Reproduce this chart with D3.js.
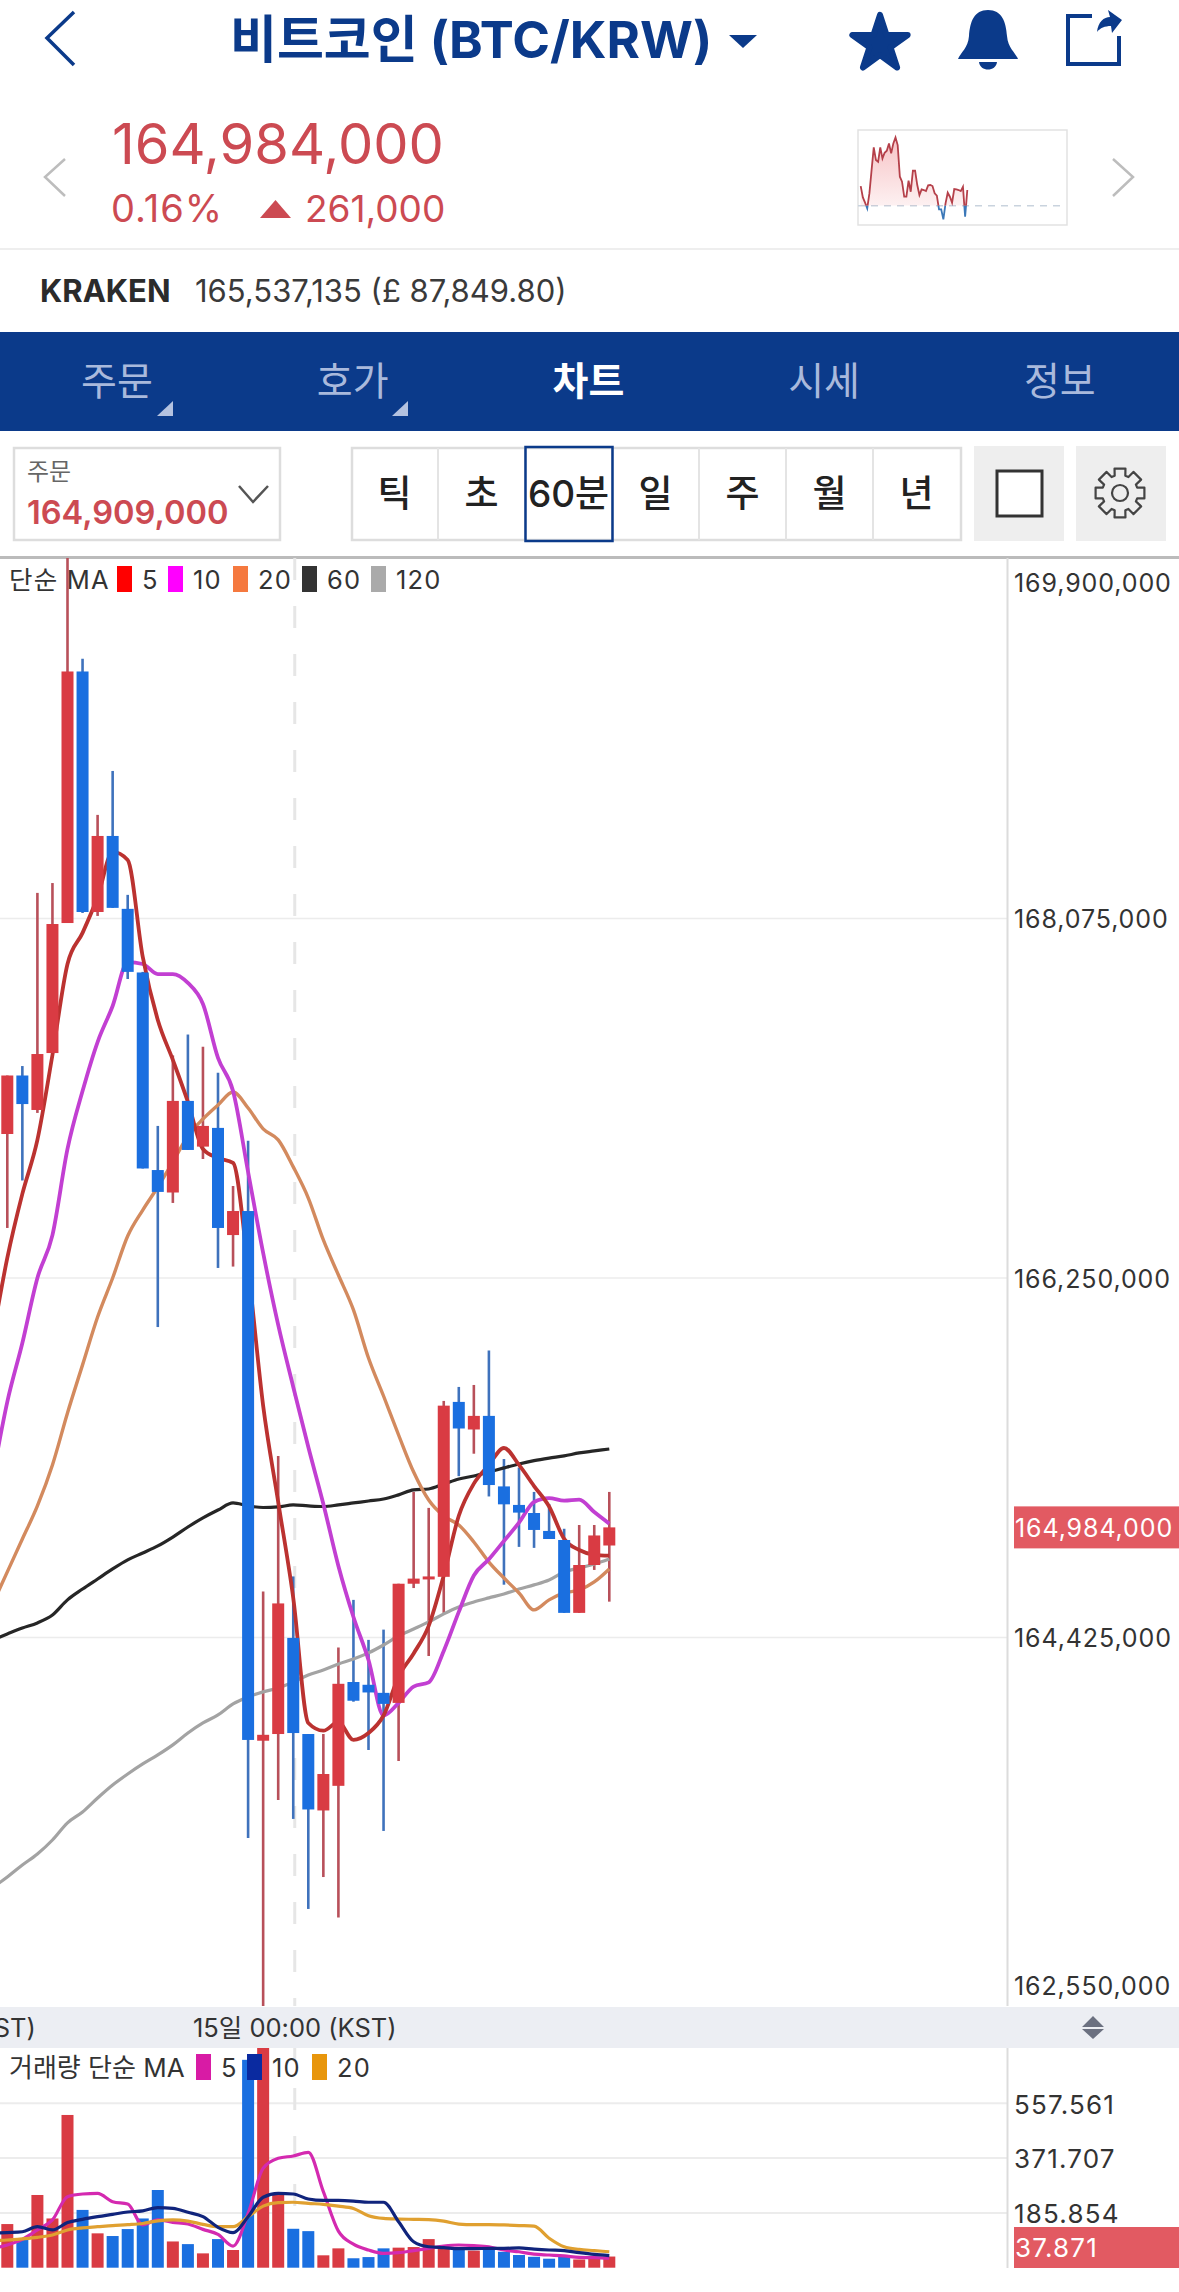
<!DOCTYPE html>
<html>
<head>
<meta charset="utf-8">
<style>
html, body { margin: 0; padding: 0; background: #fff; }
svg { display: block; }
text { font-family: Inter, "Noto Sans CJK KR", sans-serif; }
</style>
</head>
<body>
<svg id="page" width="1179" height="2292"></svg>
<script src="https://cdn.jsdelivr.net/npm/d3@7/dist/d3.min.js"></script>
<script>
// prices are in thousands of KRW, index 0 is the first candle fully on screen
var opens = [166981,167278,167103,167392,168052,169329,168108,168494,168124,167801,166798,166684,167149,166917,167012,166468,166590,163901,163935,164423,163935,163547,163672,164199,164185,164144,164093,164698,164722,164733,165621,165481,165550,165192,165098,165057,164966,164920,164550,164793,164892];
var highs = [167278,167326,168205,168255,170000,169393,168601,168824,168195,167804,167022,167380,167486,167424,167292,166717,166947,164658,165347,164735,163935,163935,164374,164616,164413,164465,164698,165164,165083,165626,165697,165707,165882,165331,165288,165164,165103,164977,164996,164996,165164];
var lows = [166504,166745,167088,167392,168052,168103,168088,168129,167768,166806,166001,166631,166900,166854,166301,166308,163407,162534,163600,163504,163047,163209,163004,164099,163854,163443,163798,164676,164331,164550,165244,165358,165141,164693,164885,164880,164925,164550,164550,164768,164607];
var closes = [167278,167133,167387,168047,169329,168108,168494,168129,167804,166806,166687,167149,166900,167022,166504,166590,163905,163931,164598,163940,163552,163732,164190,164104,164146,164088,164698,164724,164735,165602,165486,165550,165199,165101,165059,164971,164925,164550,164793,164943,164984];

// moving averages start one bar left of the screen, index -1
var ma5 = [165935,166352,166677,166951,167382,167844,168002,168184,168413,168372,167880,167560,167357,167144,166905,166859,166834,166301,165602,165113,164626,163991,163952,163996,163905,163940,164029,164227,164344,164484,164740,165043,165206,165301,165387,165301,165194,165090,164926,164869,164845,164841];
var ma10 = [165225,165621,165920,166250,166468,166905,167199,167448,167631,167854,167844,167793,167793,167748,167641,167367,167199,166788,166377,166012,165697,165392,165103,164788,164529,164311,164029,164093,164176,164197,164357,164555,164740,164822,164915,165008,165113,165133,165120,165125,165062,165003];
var ma20 = [164590,164758,164925,165093,165301,165565,165809,166052,166250,166463,166595,166712,166839,166971,167057,167128,167194,167113,167007,166951,166814,166656,166443,166265,166088,165844,165651,165453,165265,165123,165042,164996,164910,164808,164727,164651,164565,164616,164651,164666,164707,164773];
var ma60 = [164412,164443,164473,164499,164539,164616,164671,164722,164773,164819,164854,164890,164935,164986,165032,165072,165108,165093,165085,165088,165098,165093,165090,165098,165108,165118,165128,165149,165174,165179,165204,165230,165245,165265,165286,165306,165323,165336,165347,165362,165372,165382];
var ma120 = [163154,163209,163270,163326,163397,163484,163539,163610,163676,163732,163783,163829,163880,163940,163991,164032,164088,164123,164149,164169,164199,164235,164260,164291,164316,164347,164387,164433,164468,164504,164545,164580,164605,164626,164646,164671,164692,164717,164758,164778,164798,164824];

var volumes = [148,99.5,246.6,167,518,196,116.5,107.4,131,167,263.5,89,80,48.6,97,60,705,760,246.6,132,124,42,65.6,32,36,65.6,68,70,97,65.6,65,58,62,54,43,37,30.5,43,28,35,37.871];
var volMa5 = [65.6,77,96,128,162,241,250,252,224,216,145,162,154,148,130,113,73.5,184,337,371,379,391,258,124,80,60,48.6,51,58,65.6,73.5,77,75,71,60,54,46,43,40,35,34,32];
var volMa10 = [116.5,119,122,139,128,153,164,173,181,189,193,204,201,188,173,137,119,173,239,252,250,233,228,228,226,222,222,156,88,71,68,64.5,64.5,65.6,65.6,67,63,60,58,51,45,41];
var volMa20 = [92,94,98,103,111,128,135,139,143,146,150,159,162,158,147,139,139,173,209,221,222,218,215,209,201,176,167,165,164,163,158,148,146,146,145,143,141,100,71,62,58,54];

var priceTicks = [169900, 168075, 166250, 164425, 162550];
var volTicks = [557.561, 371.707, 185.854];
var timeTicks = [-4.9, 19.1];
var timeLabels = ['14일 00:00 (KST)', '15일 00:00 (KST)'];
var lastPrice = 164984;
var lastVolume = 37.871;

var intervals = ['틱', '초', '60분', '일', '주', '월', '년'];
var tabs = ['주문', '호가', '차트', '시세', '정보'];
var priceLegend = [['5', '#ff0000'], ['10', '#ff00ff'], ['20', '#f5793f'], ['60', '#333333'], ['120', '#aaaaaa']];
var volLegend = [['5', '#d81ba5'], ['10', '#0a2aa0'], ['20', '#e8960c']];
var spark = [59,25,9,-8,37,107,175,137,132,175,142,159,165,187,157,187,205,182,87,72,27,27,75,42,105,105,62,32,49,47,44,61,62,59,37,30,-11,-11,-41,7,39,27,9,50,49,47,44,57,-33,47];

var navy = '#0b3a8a', red = '#cc4a52', candleRed = '#d93b43', candleBlue = '#1a6fe0';
var svg = d3.select('#page');

function label(g, x, y, str, size, fill, weight, anchor) {
    return g.append('text').attr('x', x).attr('y', y).text(str)
        .attr('font-size', size).attr('fill', fill)
        .attr('font-weight', weight || 400).attr('text-anchor', anchor || 'start');
}
function chevron(g, pts, color, width) {
    g.append('path').attr('d', d3.line()(pts)).attr('fill', 'none')
        .attr('stroke', color).attr('stroke-width', width);
}

// ---- header
var head = svg.append('g');
chevron(head, [[74, 12], [47, 38], [74, 65]], navy, 3.5);
label(head, 230, 58, '비트코인 (BTC/KRW)', 51, navy, 700);
head.append('path').attr('d', 'M729,35 L757,35 L743,48 Z').attr('fill', navy);
head.append('path').attr('transform', 'translate(880,44)')
    .attr('d', d3.symbol().type(d3.symbolStar).size(950)())
    .attr('fill', navy).attr('stroke', navy).attr('stroke-width', 6).attr('stroke-linejoin', 'round');
head.append('path').attr('fill', navy)
    .attr('d', 'M988,10 C1002,10 1006,22 1007,36 C1008,48 1015,52 1018,59 L958,59 C961,52 968,48 969,36 C970,22 974,10 988,10 Z M979,62 L997,62 C996,72 980,72 979,62 Z');
head.append('path').attr('fill', 'none').attr('stroke', navy).attr('stroke-width', 4)
    .attr('d', 'M1092,16 L1068,16 L1068,64 L1119,64 L1119,36');
head.append('path').attr('fill', navy)
    .attr('d', 'M1097,32 C1098,22 1104,17 1110,17 L1108,10 L1122,20 L1112,33 L1111,26 C1105,26 1100,28 1097,32 Z');

label(head, 112, 164, '164,984,000', 56, red);
label(head, 111, 222, '0.16%', 38, red).style('letter-spacing', '1px');
head.append('path').attr('d', 'M260,218 L291,218 L275.5,200 Z').attr('fill', red);
label(head, 305, 222, '261,000', 37, red);
chevron(head, [[65, 159], [45, 177], [65, 196]], '#bdbdbd', 2.5);
chevron(head, [[1113, 159], [1133, 177], [1113, 196]], '#bdbdbd', 2.5);

// mini chart
var defs = svg.append('defs');
var grad = defs.append('linearGradient').attr('id', 'sparkFill').attr('x1', 0).attr('x2', 0).attr('y1', 0).attr('y2', 1);
grad.append('stop').attr('offset', '0').attr('stop-color', '#e8535a').attr('stop-opacity', 0.35);
grad.append('stop').attr('offset', '1').attr('stop-color', '#e8535a').attr('stop-opacity', 0.03);
defs.append('clipPath').attr('id', 'sparkUp').append('rect').attr('x', 858).attr('y', 130).attr('width', 209).attr('height', 75.7);
defs.append('clipPath').attr('id', 'sparkDown').append('rect').attr('x', 858).attr('y', 205.7).attr('width', 209).attr('height', 20);
var sx = d3.scaleLinear().domain([0, spark.length - 1]).range([860.7, 967.3]);
var sy = d3.scaleLinear().domain([0, 100]).range([205.7, 172.4]);
head.append('rect').attr('x', 858).attr('y', 130).attr('width', 209).attr('height', 95)
    .attr('fill', '#fff').attr('stroke', '#e2e2e2').attr('stroke-width', 1.5);
head.append('line').attr('x1', 858).attr('x2', 1064).attr('y1', sy(0)).attr('y2', sy(0))
    .attr('stroke', '#c9d3de').attr('stroke-width', 1.5).attr('stroke-dasharray', '7 6');
var sparkLine = d3.line().x(function (d, i) { return sx(i) }).y(function (d) { return sy(d) });
var sparkArea = d3.area().x(function (d, i) { return sx(i) }).y0(sy(0)).y1(function (d) { return sy(d) });
head.append('path').datum(spark).attr('d', sparkArea).attr('fill', 'url(#sparkFill)').attr('clip-path', 'url(#sparkUp)');
head.append('path').datum(spark).attr('d', sparkLine).attr('fill', 'none').attr('stroke', '#b5404a').attr('stroke-width', 1.8).attr('clip-path', 'url(#sparkUp)');
head.append('path').datum(spark).attr('d', sparkLine).attr('fill', 'none').attr('stroke', '#3b78b8').attr('stroke-width', 1.8).attr('clip-path', 'url(#sparkDown)');

head.append('rect').attr('x', 0).attr('y', 248).attr('width', 1179).attr('height', 2).attr('fill', '#eeeeee');
label(head, 40, 302, 'KRAKEN', 31, '#2b2b2b', 700);
label(head, 195, 302, '165,537,135 (£ 87,849.80)', 31, '#3a3a3a');

// ---- tab bar
head.append('rect').attr('x', 0).attr('y', 332).attr('width', 1179).attr('height', 99).attr('fill', navy);
tabs.forEach(function (t, i) {
    var on = t === '차트';
    label(head, 117 + i * 235.7, 395, t, 39, on ? '#ffffff' : '#a9b9dc', on ? 700 : 400, 'middle');
});
[173, 408].forEach(function (x) {
    head.append('path').attr('d', 'M' + x + ',401 L' + x + ',416 L' + (x - 16) + ',416 Z').attr('fill', '#b4c2e0');
});

// ---- toolbar
head.append('rect').attr('x', 14).attr('y', 448).attr('width', 266).attr('height', 92)
    .attr('fill', '#fff').attr('stroke', '#dddddd').attr('stroke-width', 2.5);
label(head, 27, 480, '주문', 24, '#666666');
label(head, 27, 524, '164,909,000', 32.6, red, 600);
chevron(head, [[239, 486], [253, 502], [268, 486]], '#555555', 2.5);
head.append('rect').attr('x', 352).attr('y', 448).attr('width', 609).attr('height', 92)
    .attr('fill', '#fff').attr('stroke', '#dddddd').attr('stroke-width', 2.5);
intervals.forEach(function (t, i) {
    var x = 351 + i * 87;
    if (i > 0) head.append('line').attr('x1', x).attr('x2', x).attr('y1', 448).attr('y2', 540).attr('stroke', '#e4e4e4').attr('stroke-width', 2);
    label(head, x + 43.5, 507, t, 37, '#222222', 500, 'middle');
});
head.append('rect').attr('x', 525.5).attr('y', 447).attr('width', 87).attr('height', 94)
    .attr('fill', 'none').attr('stroke', navy).attr('stroke-width', 2.5);
head.append('rect').attr('x', 974).attr('y', 446).attr('width', 90).attr('height', 95).attr('fill', '#eeeeee');
head.append('rect').attr('x', 1076).attr('y', 446).attr('width', 90).attr('height', 95).attr('fill', '#eeeeee');
head.append('rect').attr('x', 997).attr('y', 471).attr('width', 45).attr('height', 45)
    .attr('fill', '#fff').attr('stroke', '#333333').attr('stroke-width', 3);
var gear = [];
d3.range(8).forEach(function (k) {
    var a = k * Math.PI / 4 - Math.PI / 2;
    [[-0.3, 18], [-0.22, 25], [0.22, 25], [0.3, 18]].forEach(function (p) {
        gear.push([1120 + p[1] * Math.cos(a + p[0]), 493 + p[1] * Math.sin(a + p[0])]);
    });
});
head.append('path').attr('d', d3.line()(gear) + 'Z').attr('fill', 'none').attr('stroke', '#444444').attr('stroke-width', 2.2).attr('stroke-linejoin', 'round');
head.append('circle').attr('cx', 1120).attr('cy', 493).attr('r', 8).attr('fill', 'none').attr('stroke', '#444444').attr('stroke-width', 2.2);

// ---- scales
var x = d3.scaleLinear().domain([0, 40]).range([7.3, 609.3]);
var y = d3.scaleLinear().domain([168075, 164425]).range([918.5, 1637.5]);
var yVol = d3.scaleLinear().domain([0, 557.561]).range([2267.7, 2103.3]);
var axisX = 1007.5, panelTop = 558, panelBottom = 2006, volTop = 2048;

defs.append('clipPath').attr('id', 'pricePanel').append('rect').attr('x', 0).attr('y', panelTop).attr('width', axisX).attr('height', panelBottom - panelTop);
defs.append('clipPath').attr('id', 'volPanel').append('rect').attr('x', 0).attr('y', volTop).attr('width', axisX).attr('height', 2268 - volTop);

svg.append('rect').attr('x', 0).attr('y', panelTop - 2).attr('width', 1179).attr('height', 3).attr('fill', '#bbbbbb');

// grid
var grid = svg.append('g');
grid.selectAll('line.p').data(priceTicks.slice(1, 4)).enter().append('line').attr('class', 'p')
    .attr('x1', 0).attr('x2', axisX).attr('y1', y).attr('y2', y).attr('stroke', '#ececec').attr('stroke-width', 1.5);
grid.selectAll('line.v').data(volTicks).enter().append('line').attr('class', 'v')
    .attr('x1', 0).attr('x2', axisX).attr('y1', yVol).attr('y2', yVol).attr('stroke', '#ececec').attr('stroke-width', 2);
grid.selectAll('line.t').data(timeTicks.slice(1)).enter().append('line').attr('class', 't')
    .attr('x1', x).attr('x2', x).attr('y1', panelTop).attr('y2', panelBottom)
    .attr('stroke', '#e6e6e6').attr('stroke-width', 3).attr('stroke-dasharray', '22 26').attr('stroke-dashoffset', 0);
grid.selectAll('line.tv').data(timeTicks.slice(1)).enter().append('line').attr('class', 'tv')
    .attr('x1', x).attr('x2', x).attr('y1', volTop).attr('y2', 2268)
    .attr('stroke', '#e6e6e6').attr('stroke-width', 3).attr('stroke-dasharray', '22 26').attr('stroke-dashoffset', 8);
[[panelTop, panelBottom], [volTop, 2268]].forEach(function (r) {
    grid.append('line').attr('x1', axisX).attr('x2', axisX).attr('y1', r[0]).attr('y2', r[1]).attr('stroke', '#dcdcdc').attr('stroke-width', 2);
});

// ---- candles: wicks under the averages, bodies over them
var chart = svg.append('g').attr('clip-path', 'url(#pricePanel)');
var idx = d3.range(opens.length);
function isUp(i) { return closes[i] >= opens[i] }

chart.selectAll('line.wick').data(idx).enter().append('line').attr('class', 'wick')
    .attr('x1', x).attr('x2', x)
    .attr('y1', function (i) { return y(highs[i]) })
    .attr('y2', function (i) { return y(lows[i]) })
    .attr('stroke', function (i) { return isUp(i) ? '#b8505a' : '#3f72bc' })
    .attr('stroke-width', 2.6);

var maLine = d3.line().curve(d3.curveMonotoneX).x(function (d, i) { return x(i - 1) }).y(function (d) { return y(d) });
[[ma120, '#a3a3a3', 3.2], [ma60, '#262626', 3.2], [ma20, '#d38a5e', 3.4], [ma10, '#c23fd2', 3.8], [ma5, '#bb3230', 3.8]].forEach(function (m) {
    chart.append('path').datum(m[0]).attr('d', maLine).attr('fill', 'none')
        .attr('stroke', m[1]).attr('stroke-width', m[2]).attr('stroke-linejoin', 'round');
});

chart.selectAll('rect.body').data(idx).enter().append('rect').attr('class', 'body')
    .attr('x', function (i) { return x(i) - 6 })
    .attr('width', 12)
    .attr('y', function (i) { return Math.min(y(opens[i]), y(closes[i])) })
    .attr('height', function (i) { return Math.max(3, Math.abs(y(opens[i]) - y(closes[i]))) })
    .attr('fill', function (i) { return isUp(i) ? candleRed : candleBlue });

// legend over the price panel
function legend(items, baseline, boxes) {
    var g = svg.append('g');
    items.forEach(function (it, i) {
        g.append('rect').attr('x', boxes[i]).attr('y', baseline - 23).attr('width', 15).attr('height', 26).attr('fill', it[1]);
        label(g, boxes[i] + 25, baseline, it[0], 25.5, '#333333').style('letter-spacing', '1.2px');
    });
}
label(svg, 9, 589, '단순 MA', 25.5, '#333333').style('letter-spacing', '1.2px');
legend(priceLegend, 589, [117, 168, 233, 302, 371]);

// ---- axis band
svg.append('rect').attr('x', 0).attr('y', 2007).attr('width', 1179).attr('height', 41).attr('fill', '#eceef3');
timeTicks.forEach(function (t, i) {
    label(svg, x(t), 2037, timeLabels[i], 25.5, '#333333', 400, 'middle');
});
svg.append('path').attr('d', 'M1082,2027 L1104,2027 L1093,2016 Z M1082,2029 L1104,2029 L1093,2039 Z').attr('fill', '#6b7080');

// ---- volume
var vol = svg.append('g').attr('clip-path', 'url(#volPanel)');
vol.selectAll('rect').data(volumes).enter().append('rect')
    .attr('x', function (d, i) { return x(i) - 6 })
    .attr('width', 12)
    .attr('y', function (d) { return yVol(d) })
    .attr('height', function (d) { return yVol(0) - yVol(d) })
    .attr('fill', function (d, i) { return isUp(i) ? candleRed : candleBlue });
var volLine = d3.line().curve(d3.curveMonotoneX).x(function (d, i) { return x(i - 1) }).y(function (d) { return yVol(d) });
[[volMa5, '#d42ab0'], [volMa20, '#e0a030'], [volMa10, '#10247c']].forEach(function (m) {
    vol.append('path').datum(m[0]).attr('d', volLine).attr('fill', 'none')
        .attr('stroke', m[1]).attr('stroke-width', 3.2);
});
label(svg, 9, 2077, '거래량 단순 MA', 26, '#333333');
legend(volLegend, 2077, [196, 247, 312]);

// ---- axes on the right; the outer price labels stay inside the panel
var priceAxis = d3.axisRight(y).tickValues(priceTicks).tickSize(0).tickPadding(0)
    .tickFormat(function (d) { return d3.format(',')(d * 1000) });
var pa = svg.append('g').attr('transform', 'translate(1014,1.5)').call(priceAxis);
pa.select('.domain').remove();
pa.selectAll('.tick').attr('transform', function (d) {
    return 'translate(0,' + Math.max(582, Math.min(1985, y(d))) + ')';
});
var volAxis = d3.axisRight(yVol).tickValues(volTicks).tickSize(0).tickPadding(0)
    .tickFormat(d3.format('.3f'));
var va = svg.append('g').attr('transform', 'translate(1014,1.5)').call(volAxis);
va.select('.domain').remove();
pa.selectAll('text').attr('font-size', 25).attr('fill', '#333333')
    .style('font-family', 'Inter, sans-serif').style('letter-spacing', '0.9px');
va.selectAll('text').attr('font-size', 26).attr('fill', '#333333')
    .style('font-family', 'Inter, sans-serif').style('letter-spacing', '1.2px');

// last value tags
svg.append('rect').attr('x', 1014).attr('y', y(lastPrice) - 21).attr('width', 165).attr('height', 42).attr('fill', '#e25a62');
label(svg, 1015, y(lastPrice) + 10, d3.format(',')(lastPrice * 1000), 25, '#ffffff').style('letter-spacing', '0.9px');
svg.append('rect').attr('x', 1014).attr('y', 2227).attr('width', 165).attr('height', 41).attr('fill', '#e25a62');
label(svg, 1015, 2257, d3.format('.3f')(lastVolume), 26, '#ffffff').style('letter-spacing', '1.2px');
</script>
</body>
</html>
